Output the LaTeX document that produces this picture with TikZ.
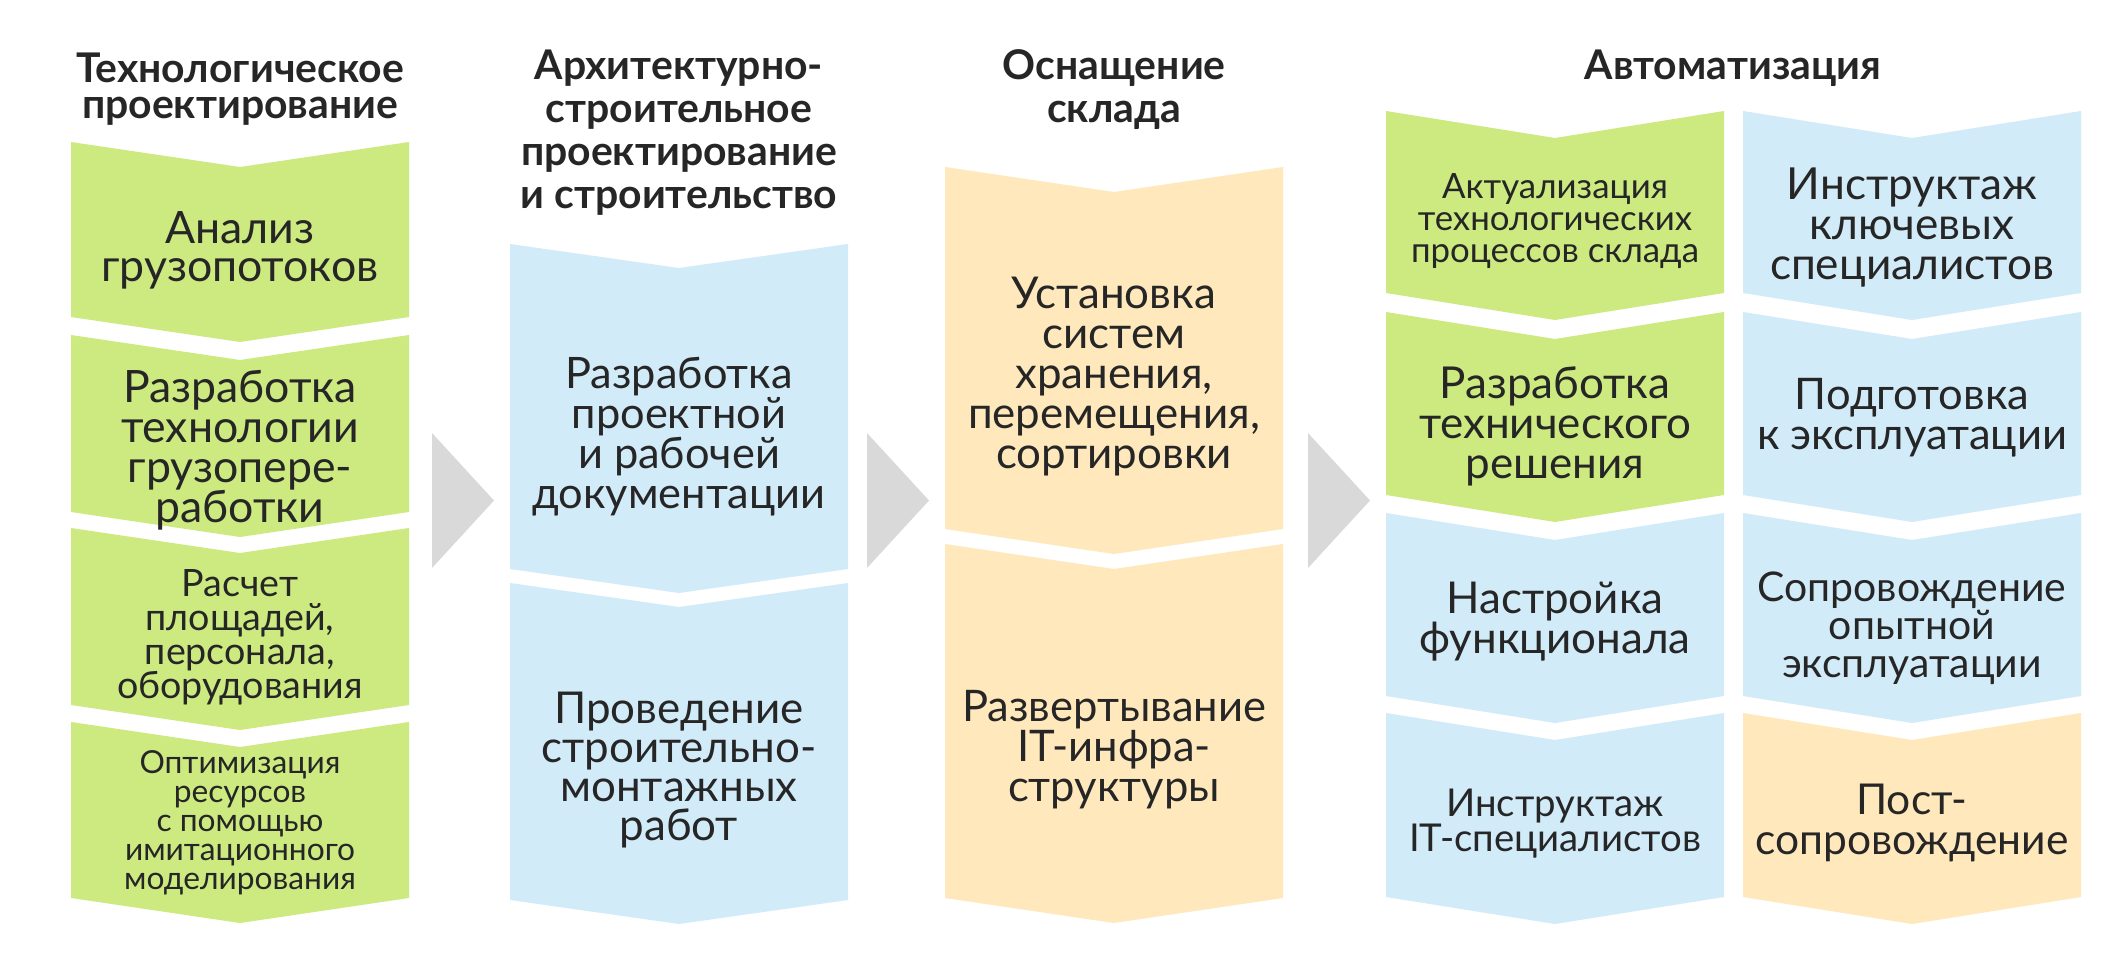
\documentclass[tikz,border=0pt]{standalone}
\usepackage{fontspec}
\setmainfont{Lato}
\definecolor{cgreen}{HTML}{CDEA81}
\definecolor{cblue}{HTML}{D2EBF9}
\definecolor{cyellow}{HTML}{FEE8BC}
\definecolor{cgrey}{HTML}{D9D9D9}
\definecolor{ink}{HTML}{262626}
\newlength\fitlen
% #1 target width of sample line (px = pt), #2 sample line, #3 baselineskip
\newcommand{\fitfont}[3]{\settowidth{\fitlen}{\fontsize{10}{12}\selectfont #2}%
  \pgfmathsetmacro\fitsize{10*#1/\fitlen}\fontsize{\fitsize}{#3}\selectfont}
\newcommand{\chevbox}[6]{\fill[#6] (#1,#3) -- ({(#1+#2)/2},{#3+#5}) -- (#2,#3) -- (#2,#4) -- ({(#1+#2)/2},{#4+#5}) -- (#1,#4) -- cycle;}
\begin{document}
\begin{tikzpicture}[x=1pt,y=-1pt,
  txt/.style={align=center, text=ink, inner sep=0pt, anchor=center,
    execute at begin node=\strut, execute at end node=\strut},
  head/.style={txt},
  garrow/.style={fill=cgrey}]
\useasboundingbox (0,0) rectangle (2112,958);
\fill[white] (0,0) rectangle (2112,958);
% column 1
\chevbox{71}{409}{142}{317}{25}{cgreen}
\chevbox{71}{409}{335}{512}{25}{cgreen}
\chevbox{71}{409}{528}{705}{25}{cgreen}
\chevbox{71}{409}{722}{898}{25}{cgreen}
% column 2
\chevbox{510}{848}{244}{569}{24}{cblue}
\chevbox{510}{848}{583}{900}{24}{cblue}
% column 3
\chevbox{945}{1283}{167}{529}{25}{cyellow}
\chevbox{945}{1283}{544}{898}{25}{cyellow}
% column 4a
\chevbox{1386}{1724}{111}{293}{27}{cgreen}
\chevbox{1386}{1724}{312}{495}{27}{cgreen}
\chevbox{1386}{1724}{513}{696}{27}{cblue}
\chevbox{1386}{1724}{713}{897}{27}{cblue}
% column 4b
\chevbox{1743}{2081}{111}{293}{27}{cblue}
\chevbox{1743}{2081}{312}{495}{27}{cblue}
\chevbox{1743}{2081}{513}{696}{27}{cblue}
\chevbox{1743}{2081}{713}{897}{27}{cyellow}
% arrows
\fill[garrow] (432,433) -- (494,500.5) -- (432,568) -- cycle;
\fill[garrow] (867,433) -- (929,500.5) -- (867,568) -- cycle;
\fill[garrow] (1308,433) -- (1370,500.5) -- (1308,568) -- cycle;
% headers
\node[head, font=\bfseries\fitfont{316}{проектирование}{36}] (h1) at (240,90.8) {Технологическое\\проектирование};
\node[head, font=\bfseries\fitfont{316}{проектирование}{43}] (h2) at (679,135.9) {Архитектурно-\\строительное\\проектирование\\и строительство};
\node[head, font=\bfseries\fitfont{316}{проектирование}{43}] (h3) at (1114,92.9) {Оснащение\\склада};
\node[head, font=\bfseries\fitfont{316}{проектирование}{43}] (h4) at (1733,71.4) {Автоматизация};
% column 1 texts
\node[txt, font=\fitfont{277}{грузопотоков}{38}] (a1) at (240,252.4) {Анализ\\грузопотоков};
\node[txt, font=\fitfont{277}{грузопотоков}{40}] (a2) at (240,452.5) {Разработка\\технологии\\грузопере-\\работки};
\node[txt, font=\fitfont{246}{оборудования}{34}] (a3) at (240,639.2) {Расчет\\площадей,\\персонала,\\оборудования};
\node[txt, font=\fitfont{230}{имитационного}{29}] (a4) at (240,824.7) {Оптимизация\\ресурсов\\с помощью\\имитационного\\моделирования};
% column 2 texts
\node[txt, font=\fitfont{293}{документации}{40}] (b1) at (679,439) {Разработка\\проектной\\и рабочей\\документации};
\node[txt, font=\fitfont{275}{строительно-}{39}] (b2) at (679,772.2) {Проведение\\строительно-\\монтажных\\работ};
% column 3 texts
\node[txt, font=\fitfont{292}{перемещения,}{40}] (c1) at (1114,379) {Установка\\систем\\хранения,\\перемещения,\\сортировки};
\node[txt, font=\fitfont{304}{Развертывание}{40}] (c2) at (1114,752) {Развертывание\\IT-инфра-\\структуры};
% column 4a texts
\node[txt, font=\fitfont{288}{процессов склада}{32}] (d1) at (1555,222.6) {Актуализация\\технологических\\процессов склада};
\node[txt, font=\fitfont{272}{технического}{40}] (d2) at (1555,428.5) {Разработка\\технического\\решения};
\node[txt, font=\fitfont{271}{функционала}{38}] (d3) at (1555,623.4) {Настройка\\функционала};
\node[txt, font=\fitfont{292}{IT-специалистов}{33}] (d4) at (1555,824.9) {Инструктаж\\IT-специалистов};
% column 4b texts
\node[txt, font=\fitfont{284}{специалистов}{40}] (e1) at (1912,230) {Инструктаж\\ключевых\\специалистов};
\node[txt, font=\fitfont{310}{к эксплуатации}{40}] (e2) at (1912,420) {Подготовка\\к эксплуатации};
\node[txt, font=\fitfont{309}{Сопровождение}{38}] (e3) at (1912,630) {Сопровождение\\опытной\\эксплуатации};
\node[txt, font=\fitfont{313}{сопровождение}{40}] (e4) at (1912,825) {Пост-\\сопровождение};
\end{tikzpicture}
\end{document}
